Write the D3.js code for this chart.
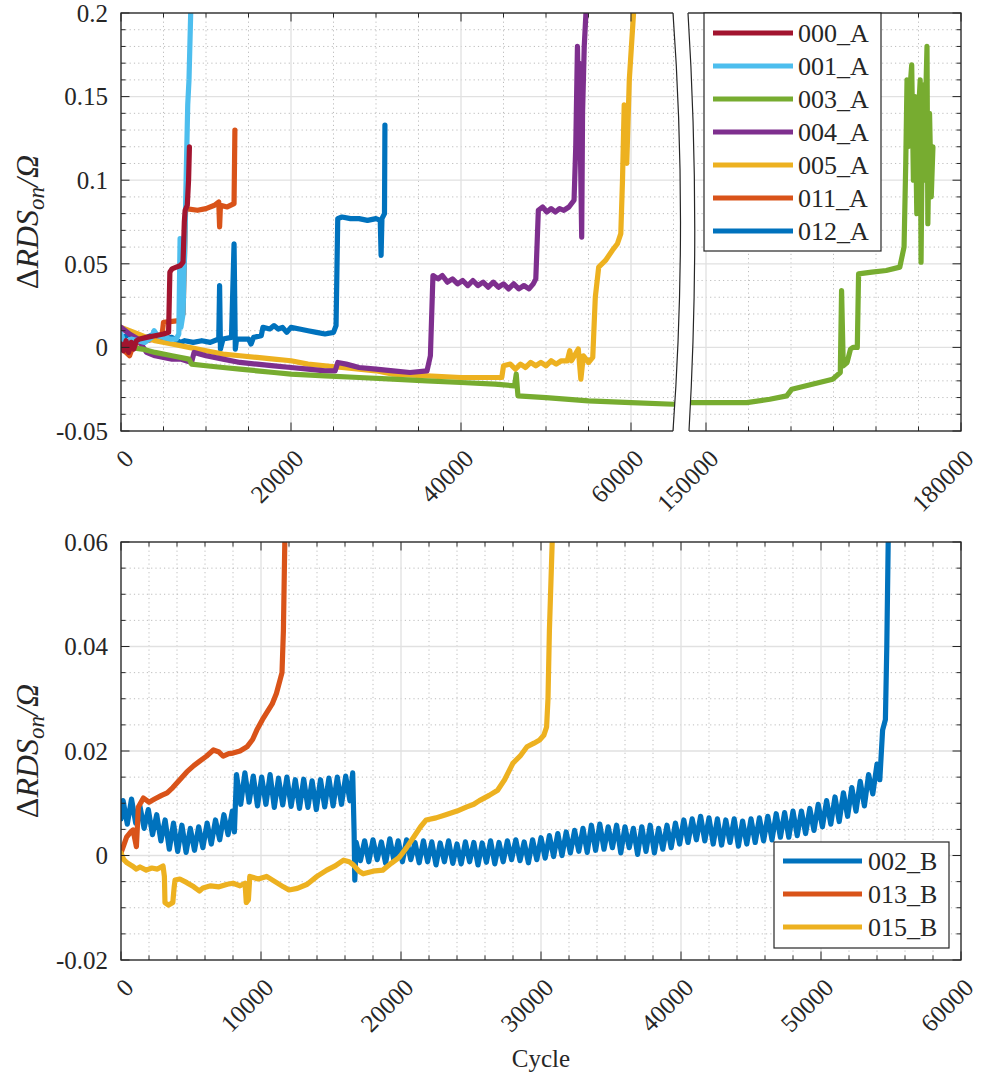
<!DOCTYPE html>
<html><head><meta charset="utf-8">
<script src="https://cdn.jsdelivr.net/npm/d3@7"></script>
<style>
body{margin:0;background:#fff}
svg{display:block}
svg text{font-family:Liberation Serif, Times New Roman, DejaVu Serif, serif}
</style>
</head><body>
<svg id="c" width="981" height="1079" font-family="Liberation Serif, Times New Roman, DejaVu Serif, serif"></svg>
<script>
// ---------------- DATA: top panel (cycle, ΔRDSon) ----------------
const topNames = ["000_A","001_A","003_A","004_A","005_A","011_A","012_A"];
const topColors = ["#A2142F","#4DBEEE","#77AC30","#7E2F8E","#EDB120","#D95319","#0072BD"];

const s000_A = [[0,0.002],[300,-0.002],[600,0.004],[900,-0.003],[1200,0.003],[1500,-0.001],[1800,0.004],[2200,0.005],[3000,0.006],[4000,0.007],[5000,0.008],[5600,0.009],[5750,0.045],[6000,0.047],[6500,0.048],[7000,0.049],[7300,0.051],[7450,0.075],[7550,0.082],[7800,0.085],[7950,0.1],[8050,0.12]];
const s001_A = [[0,0.008],[300,0.004],[700,0.003],[1200,0.005],[2000,0.004],[2800,0.003],[3600,0.006],[3900,0.01],[4300,0.007],[5000,0.006],[5800,0.005],[6500,0.005],[6800,0.008],[6950,0.065],[7050,0.012],[7300,0.02],[7500,0.06],[7700,0.11],[7850,0.145],[8000,0.16],[8200,0.2],[8300,0.22]];
const s003_A = [[0,0.001],[1000,0.0],[2500,-0.001],[4000,-0.003],[6000,-0.005],[8000,-0.007],[8300,-0.010],[10000,-0.011],[12000,-0.012],[14000,-0.013],[16000,-0.014],[18000,-0.015],[20000,-0.016],[24000,-0.017],[28000,-0.018],[32000,-0.019],[36000,-0.020],[40000,-0.021],[44000,-0.022],[46300,-0.023],[46500,-0.016],[46700,-0.029],[50000,-0.030],[55000,-0.032],[60000,-0.033],[65000,-0.034],[148000,-0.033],[151000,-0.033],[154800,-0.033],[157500,-0.031],[159500,-0.029],[160100,-0.025],[162500,-0.022],[164900,-0.019],[165800,-0.015],[165950,0.034],[166150,-0.011],[166600,-0.009],[167000,-0.001],[167300,0.0],[167800,0.0],[167950,0.044],[169500,0.045],[171200,0.046],[172800,0.048],[173300,0.06],[173500,0.11],[173650,0.16],[173800,0.12],[174000,0.155],[174200,0.169],[174400,0.10],[174600,0.15],[174800,0.08],[175000,0.14],[175200,0.16],[175300,0.051],[175500,0.157],[175700,0.10],[175850,0.15],[176000,0.18],[176100,0.074],[176300,0.14],[176500,0.09],[176700,0.12]];
const s004_A = [[0,0.012],[1000,0.008],[2000,0.005],[3000,-0.003],[4000,-0.005],[5000,-0.006],[6000,-0.007],[7000,-0.007],[8300,-0.009],[8600,-0.003],[10000,-0.005],[12000,-0.007],[14000,-0.009],[16000,-0.010],[18000,-0.011],[20000,-0.012],[22000,-0.013],[24000,-0.014],[25200,-0.014],[25500,-0.009],[26500,-0.010],[28000,-0.012],[30000,-0.013],[32000,-0.014],[34000,-0.015],[36000,-0.014],[36400,-0.005],[36700,0.043],[37300,0.041],[37800,0.043],[38400,0.039],[39000,0.041],[39600,0.038],[40200,0.040],[40800,0.037],[41400,0.040],[42000,0.037],[42600,0.039],[43200,0.036],[43800,0.039],[44400,0.036],[45000,0.038],[45600,0.035],[46200,0.038],[46800,0.035],[47400,0.037],[48000,0.035],[48500,0.038],[48800,0.041],[49100,0.082],[49600,0.084],[50100,0.081],[50600,0.083],[51100,0.081],[51600,0.083],[52100,0.082],[52700,0.084],[53300,0.088],[53500,0.12],[53700,0.18],[53800,0.15],[53900,0.17],[54100,0.10],[54200,0.066],[54300,0.14],[54500,0.18],[54700,0.2],[54900,0.22]];
const s005_A = [[0,0.012],[1000,0.010],[2000,0.008],[3000,0.006],[4000,0.004],[6000,0.002],[8000,0.0],[10000,-0.002],[12000,-0.004],[14000,-0.005],[16000,-0.006],[18000,-0.007],[20000,-0.008],[22000,-0.010],[24000,-0.011],[26000,-0.012],[28000,-0.013],[30000,-0.014],[32000,-0.016],[36000,-0.017],[40000,-0.018],[44000,-0.018],[44800,-0.018],[45000,-0.011],[45800,-0.010],[46400,-0.013],[47000,-0.010],[47600,-0.012],[48200,-0.009],[48800,-0.011],[49400,-0.009],[50000,-0.011],[50600,-0.008],[51200,-0.010],[51800,-0.008],[52500,-0.008],[52800,-0.002],[53000,-0.008],[53800,-0.001],[54100,-0.019],[54400,-0.005],[55000,-0.009],[55500,-0.006],[55800,0.03],[56200,0.048],[57000,0.052],[57800,0.058],[58400,0.062],[58800,0.068],[59000,0.10],[59200,0.145],[59500,0.11],[59800,0.16],[60300,0.2],[60500,0.22]];
const s011_A = [[0,0.001],[600,-0.003],[1000,-0.005],[1500,0.002],[3000,0.004],[4800,0.006],[5000,0.015],[6800,0.016],[7300,0.02],[7500,0.06],[7600,0.083],[9000,0.082],[10000,0.083],[11000,0.085],[11500,0.087],[11600,0.072],[11700,0.085],[12500,0.084],[13300,0.086],[13400,0.13]];
const s012_A = [[0,0.005],[1000,0.008],[2000,0.004],[3000,0.006],[4000,0.008],[5000,0.005],[6000,0.006],[7000,0.003],[7500,0.004],[8500,0.003],[9500,0.004],[10500,0.003],[11500,0.005],[11600,0.037],[11700,-0.001],[12000,0.005],[13000,0.006],[13300,0.062],[13450,-0.001],[13600,0.005],[15000,0.005],[15300,0.002],[15600,0.006],[16500,0.007],[16700,0.012],[17500,0.011],[18000,0.013],[18500,0.011],[19000,0.012],[19500,0.009],[20000,0.012],[21000,0.011],[22000,0.010],[23000,0.009],[24000,0.008],[25000,0.009],[25300,0.013],[25500,0.077],[26000,0.078],[27000,0.077],[28000,0.077],[29000,0.076],[30000,0.077],[30500,0.076],[30600,0.055],[30700,0.077],[31000,0.08],[31050,0.133]];
const topSeries = [s000_A,s001_A,s003_A,s004_A,s005_A,s011_A,s012_A];

// ---------------- DATA: bottom panel ----------------
const botNames = ["002_B","013_B","015_B"];
const botColors = ["#0072BD","#D95319","#EDB120"];
const s002_B = [[0,0.007],[150,0.0105],[450,0.006],[750,0.0108],[1050,0.0062],[1350,0.0095],[1650,0.0052],[1950,0.0088],[2250,0.004],[2550,0.0078],[2850,0.0028],[3150,0.0068],[3450,0.0012],[3750,0.0062],[4050,0.0008],[4350,0.0058],[4650,0.0006],[4950,0.0052],[5250,0.001],[5550,0.0055],[5850,0.0015],[6150,0.0062],[6450,0.0022],[6750,0.0068],[7050,0.003],[7350,0.0078],[7650,0.004],[7950,0.0085],[8100,0.0045],[8250,0.0155],[8550,0.0098],[8850,0.0158],[9150,0.0102],[9450,0.0152],[9750,0.0095],[10050,0.015],[10350,0.0098],[10650,0.0155],[10950,0.0092],[11250,0.0148],[11550,0.0097],[11850,0.015],[12150,0.0094],[12450,0.0145],[12750,0.009],[13050,0.0146],[13350,0.0092],[13650,0.0143],[13950,0.0088],[14250,0.0145],[14550,0.0093],[14850,0.0148],[15150,0.0095],[15450,0.015],[15750,0.0098],[16050,0.0152],[16350,0.0105],[16550,0.0158],[16650,0.0045],[16700,-0.0047],[16800,0.0025],[17100,-0.001],[17400,0.0028],[17700,-0.0012],[18000,0.003],[18300,-0.0008],[18600,0.0026],[18900,-0.0015],[19200,0.0032],[19500,-0.001],[19800,0.0028],[20100,-0.0012],[20400,0.003],[20700,-0.0008],[21000,0.0025],[21300,-0.0014],[21600,0.0028],[21900,-0.0012],[22200,0.0026],[22500,-0.0018],[22800,0.0024],[23100,-0.0012],[23400,0.0028],[23700,-0.0015],[24000,0.0022],[24300,-0.0016],[24600,0.0026],[24900,-0.0012],[25200,0.0025],[25500,-0.0018],[25800,0.0024],[26100,-0.0013],[26400,0.0028],[26700,-0.0016],[27000,0.0025],[27300,-0.0012],[27600,0.0028],[27900,-0.0008],[28200,0.003],[28500,-0.001],[28800,0.0026],[29100,-0.0014],[29400,0.003],[29700,-0.0008],[30000,0.0034],[30300,-0.0005],[30600,0.0038],[30900,-0.0002],[31200,0.0042],[31500,0.0],[31800,0.0045],[32100,0.0005],[32400,0.0048],[32700,0.0008],[33000,0.0052],[33300,0.0006],[33600,0.0058],[33900,0.001],[34200,0.006],[34500,0.0012],[34800,0.0055],[35100,0.0015],[35400,0.0058],[35700,0.0005],[36000,0.0055],[36300,0.0015],[36600,0.0052],[36900,0.0002],[37200,0.0055],[37500,0.0008],[37800,0.0058],[38100,0.0005],[38400,0.0052],[38700,0.0012],[39000,0.0058],[39300,0.0015],[39600,0.0062],[39900,0.0022],[40200,0.0068],[40500,0.0025],[40800,0.007],[41100,0.003],[41400,0.0075],[41700,0.0028],[42000,0.0072],[42300,0.0022],[42600,0.007],[42900,0.002],[43200,0.0068],[43500,0.0025],[43800,0.007],[44100,0.0018],[44400,0.0066],[44700,0.0022],[45000,0.007],[45300,0.0025],[45600,0.0072],[45900,0.0028],[46200,0.0075],[46500,0.003],[46800,0.008],[47100,0.0035],[47400,0.0082],[47700,0.0035],[48000,0.0085],[48300,0.0038],[48600,0.0085],[48900,0.0042],[49200,0.009],[49500,0.0048],[49800,0.0098],[50100,0.0055],[50400,0.0105],[50700,0.006],[51000,0.0112],[51300,0.0065],[51600,0.012],[51900,0.0075],[52200,0.013],[52500,0.0085],[52800,0.0142],[53100,0.0095],[53400,0.0155],[53700,0.0118],[54000,0.0175],[54200,0.0145],[54400,0.024],[54600,0.026],[54700,0.04],[54800,0.06],[54850,0.065]];
const s013_B = [[0,0.0005],[200,0.002],[400,0.0035],[700,0.0045],[860,0.0049],[1000,0.003],[1100,0.0017],[1240,0.0093],[1600,0.011],[2000,0.0102],[2400,0.0108],[2900,0.0115],[3300,0.012],[3700,0.013],[4200,0.0145],[4700,0.016],[5200,0.0172],[5600,0.018],[6100,0.019],[6600,0.0202],[7000,0.0198],[7300,0.019],[7700,0.0195],[8000,0.0196],[8500,0.020],[9000,0.0208],[9400,0.0222],[9700,0.024],[10100,0.026],[10400,0.0273],[10800,0.029],[11100,0.031],[11400,0.034],[11500,0.035],[11600,0.043],[11700,0.06],[11750,0.065]];
const s015_B = [[0,0.0005],[200,-0.0008],[430,-0.0014],[800,-0.002],[1100,-0.0026],[1360,-0.0022],[1800,-0.0028],[2200,-0.0024],[2600,-0.0026],[3000,-0.002],[3100,-0.004],[3140,-0.009],[3400,-0.0095],[3700,-0.009],[3800,-0.006],[3860,-0.0047],[4200,-0.0045],[4700,-0.0052],[5200,-0.006],[5600,-0.0068],[5860,-0.0062],[6400,-0.0058],[7000,-0.006],[7600,-0.0055],[8000,-0.0053],[8500,-0.0058],[8860,-0.0053],[8950,-0.009],[9100,-0.0085],[9200,-0.004],[9800,-0.0045],[10400,-0.004],[11000,-0.005],[11600,-0.006],[12000,-0.0066],[12600,-0.0063],[13300,-0.0055],[14000,-0.004],[14700,-0.0028],[15300,-0.002],[15900,-0.0009],[16300,-0.0012],[16600,-0.0018],[17000,-0.003],[17300,-0.0035],[18000,-0.003],[18700,-0.0028],[19300,-0.0015],[19900,-0.0003],[20400,0.0015],[20900,0.0035],[21400,0.0055],[21800,0.0068],[22500,0.0072],[23200,0.0078],[24000,0.0085],[24700,0.0093],[25200,0.0098],[25600,0.0105],[26300,0.0115],[26900,0.0125],[27400,0.0145],[28000,0.0177],[28500,0.019],[29000,0.0208],[29500,0.0215],[29900,0.0221],[30200,0.023],[30400,0.0246],[30500,0.030],[30600,0.043],[30800,0.06],[30850,0.065]];
const botSeries = [s002_B,s013_B,s015_B];

// ---------------- TICKS ----------------
const topXTicks = [0,20000,40000,60000,150000,180000];
const topYTicks = [-0.05,0,0.05,0.1,0.15,0.2];
const topYLabels = ["-0.05","0","0.05","0.1","0.15","0.2"];
const botXTicks = [0,10000,20000,30000,40000,50000,60000];
const botYTicks = [-0.02,0,0.02,0.04,0.06];
const botYLabels = ["-0.02","0","0.02","0.04","0.06"];

// ---------------- DRAW ----------------
const FONT = "Liberation Serif, Times New Roman, DejaVu Serif, serif";
const svg = d3.select("#c");
const AX = "#262626";

const T = {l:121, r:961, t:13, b:431};
const B = {l:121, r:961, t:542, b:960};

const xTop = d3.scaleLinear().domain([0,65000,148000,180000]).range([121,673.5,689,961]);
const yTop = d3.scaleLinear().domain([-0.05,0.2]).range([T.b,T.t]);
const xBot = d3.scaleLinear().domain([0,60000]).range([B.l,B.r]);
const yBot = d3.scaleLinear().domain([-0.02,0.06]).range([B.b,B.t]);

const topXMinor = d3.range(5000,65001,5000).filter(v=>v%20000!==0).concat(d3.range(155000,180000,5000));
const topYMinor = d3.range(-0.04,0.2,0.01).filter(v=>Math.abs(Math.round(v*100)%5)!==0);
const botXMinor = d3.range(2000,60000,2000).filter(v=>v%10000!==0);
const botYMinor = d3.range(-0.015,0.06,0.005).filter(v=>Math.abs(Math.round(v*1000)%20)!==0);

function txt(sel){ return sel.attr("font-family",FONT).style("font-family",FONT).attr("fill",AX); }

function panel(P, x, y, xt, xm, yt, ym, yl, series, colors, order, id){
  const g = svg.append("g");
  g.append("g").selectAll("line").data(xm).join("line")
    .attr("x1",d=>x(d)).attr("x2",d=>x(d)).attr("y1",P.t).attr("y2",P.b)
    .attr("stroke","#bdbdbd").attr("stroke-width",1).attr("stroke-dasharray","1.2,3.1");
  g.append("g").selectAll("line").data(ym).join("line")
    .attr("y1",d=>y(d)).attr("y2",d=>y(d)).attr("x1",P.l).attr("x2",P.r)
    .attr("stroke","#bdbdbd").attr("stroke-width",1).attr("stroke-dasharray","1.2,3.1");
  g.append("g").selectAll("line").data(xt).join("line")
    .attr("x1",d=>x(d)).attr("x2",d=>x(d)).attr("y1",P.t).attr("y2",P.b)
    .attr("stroke","#e1e1e1").attr("stroke-width",1.3);
  g.append("g").selectAll("line").data(yt).join("line")
    .attr("y1",d=>y(d)).attr("y2",d=>y(d)).attr("x1",P.l).attr("x2",P.r)
    .attr("stroke","#e1e1e1").attr("stroke-width",1.3);
  svg.append("clipPath").attr("id",id).append("rect")
    .attr("x",P.l).attr("y",P.t).attr("width",P.r-P.l).attr("height",P.b-P.t);
  const line = d3.line().x(d=>x(d[0])).y(d=>y(d[1]));
  const lg = g.append("g").attr("clip-path",`url(#${id})`);
  order.forEach(i=>{
    lg.append("path").datum(series[i]).attr("d",line)
      .attr("fill","none").attr("stroke",colors[i]).attr("stroke-width",5.2)
      .attr("stroke-linejoin","round").attr("stroke-linecap","round");
  });
  g.append("rect").attr("x",P.l).attr("y",P.t).attr("width",P.r-P.l).attr("height",P.b-P.t)
    .attr("fill","none").attr("stroke",AX).attr("stroke-width",1.3);
  const tk = g.append("g").attr("stroke",AX).attr("stroke-width",1);
  xt.forEach(v=>{tk.append("line").attr("x1",x(v)).attr("x2",x(v)).attr("y1",P.b).attr("y2",P.b-8.5);
                 tk.append("line").attr("x1",x(v)).attr("x2",x(v)).attr("y1",P.t).attr("y2",P.t+8.5);});
  xm.forEach(v=>{tk.append("line").attr("x1",x(v)).attr("x2",x(v)).attr("y1",P.b).attr("y2",P.b-4.5);
                 tk.append("line").attr("x1",x(v)).attr("x2",x(v)).attr("y1",P.t).attr("y2",P.t+4.5);});
  yt.forEach(v=>{tk.append("line").attr("y1",y(v)).attr("y2",y(v)).attr("x1",P.l).attr("x2",P.l+8.5);
                 tk.append("line").attr("y1",y(v)).attr("y2",y(v)).attr("x1",P.r).attr("x2",P.r-8.5);});
  ym.forEach(v=>{tk.append("line").attr("y1",y(v)).attr("y2",y(v)).attr("x1",P.l).attr("x2",P.l+4.5);
                 tk.append("line").attr("y1",y(v)).attr("y2",y(v)).attr("x1",P.r).attr("x2",P.r-4.5);});
  txt(g.append("g").selectAll("text").data(yt).join("text"))
    .attr("x",P.l-13).attr("y",d=>y(d)).attr("dy","0.35em")
    .attr("text-anchor","end").attr("font-size",25)
    .text((d,i)=>yl[i]);
  txt(g.append("g").selectAll("text").data(xt).join("text"))
    .attr("transform",d=>`translate(${x(d)+8},${P.b+23}) rotate(-45)`)
    .attr("dy","0.35em").attr("text-anchor","end").attr("font-size",25)
    .text(d=>String(d));
  const yl2 = txt(g.append("text"))
    .attr("transform",`translate(38,${(P.t+P.b)/2}) rotate(-90)`)
    .attr("text-anchor","middle").attr("font-size",32);
  yl2.append("tspan").text("Δ");
  yl2.append("tspan").attr("font-style","italic").text("RDS");
  yl2.append("tspan").attr("font-style","italic").attr("font-size",23).attr("dy",6).text("on");
  yl2.append("tspan").attr("font-style","italic").attr("dy",-6).text("/Ω");
  return g;
}

panel(T, xTop, yTop, topXTicks, topXMinor, topYTicks, topYMinor, topYLabels, topSeries, topColors, [6,5,4,3,2,1,0], "clipTop");
panel(B, xBot, yBot, botXTicks, botXMinor, botYTicks, botYMinor, botYLabels, botSeries, botColors, [0,1,2], "clipBot");

const brk = svg.append("g");
brk.append("path")
  .attr("d","M673,11 Q688,222 673,433 L689,433 Q701,222 688,11 Z")
  .attr("fill","#fff").attr("stroke","none");
brk.append("path").attr("d","M673,13 Q688,222 673,431").attr("fill","none").attr("stroke",AX).attr("stroke-width",1.2);
brk.append("path").attr("d","M688,13 Q701,222 689,431").attr("fill","none").attr("stroke",AX).attr("stroke-width",1.2);

txt(svg.append("text")).attr("x",541).attr("y",1067).attr("text-anchor","middle").attr("font-size",25).text("Cycle");

function legend(x0,y0,w,h,rowY,lx1,lx2,tx,names,colors){
  const g = svg.append("g");
  g.append("rect").attr("x",x0).attr("y",y0).attr("width",w).attr("height",h)
    .attr("fill","#fff").attr("stroke",AX).attr("stroke-width",1.2);
  names.forEach((n,i)=>{
    const yy = rowY[i];
    g.append("line").attr("x1",lx1).attr("x2",lx2).attr("y1",yy).attr("y2",yy)
      .attr("stroke",colors[i]).attr("stroke-width",5);
    txt(g.append("text")).attr("x",tx).attr("y",yy).attr("dy","0.35em").attr("font-size",26).text(n);
  });
}
legend(704,13,177,238,[33,66,99,132,165,198,231],713,793,798,topNames,topColors);
legend(774,842,175,106,[861,894,927],783,862,868,botNames,botColors);
</script>
</body></html>
